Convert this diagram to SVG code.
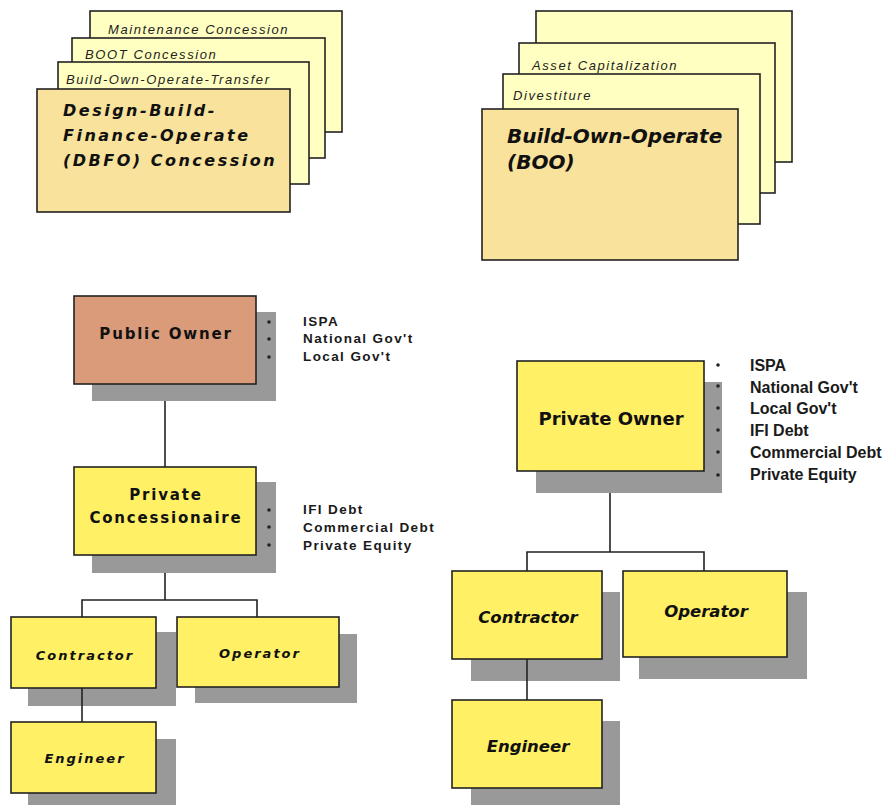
<svg xmlns="http://www.w3.org/2000/svg" width="888" height="805" viewBox="0 0 888 805">
  <style>
    .back { fill: #FFFFC1; stroke: #222; stroke-width: 1.6; }
    .front { fill: #F9E29B; stroke: #222; stroke-width: 1.6; }
    .box { fill: #FFF066; stroke: #222; stroke-width: 1.6; }
    .pub { fill: #D99B79; stroke: #222; stroke-width: 1.6; }
    .shadow { fill: #999999; }
    .conn { fill: none; stroke: #222; stroke-width: 1.6; }
    .card-lbl { font-family: "Liberation Sans", Arial, sans-serif; font-style: italic; font-size: 13px; letter-spacing: 1.6px; fill: #222; }
    .big-it { font-family: "DejaVu Sans", Verdana, sans-serif; font-weight: bold; font-style: italic; fill: #111; }
    .title { font-family: "DejaVu Sans", Verdana, sans-serif; font-weight: bold; fill: #111; text-anchor: middle; }
    .role-s { font-family: "DejaVu Sans", Verdana, sans-serif; font-weight: bold; font-style: italic; font-size: 13px; letter-spacing: 2px; fill: #111; text-anchor: middle; }
    .role-l { font-family: "DejaVu Sans", Verdana, sans-serif; font-weight: bold; font-style: italic; font-size: 16.5px; fill: #111; text-anchor: middle; }
    .src-s { font-family: "Liberation Sans", Arial, sans-serif; font-weight: bold; font-size: 13.5px; letter-spacing: 1.4px; fill: #1a1a1a; }
    .src-l { font-family: "Liberation Sans", Arial, sans-serif; font-weight: bold; font-size: 16px; fill: #1a1a1a; }
    .dot { fill: #222; }
  </style>

  <!-- Concession models: stacked cards -->
  <g id="concession-stack">
    <rect class="back" x="90" y="11" width="252" height="121"/>
    <text class="card-lbl" x="108" y="34">Maintenance Concession</text>
    <rect class="back" x="72" y="38" width="253" height="120"/>
    <text class="card-lbl" x="85" y="59">BOOT Concession</text>
    <rect class="back" x="58" y="62" width="251" height="122"/>
    <text class="card-lbl" x="66" y="84">Build-Own-Operate-Transfer</text>
    <rect class="front" x="37" y="89" width="253" height="123"/>
    <text class="big-it" font-size="16" letter-spacing="2.5" x="63" y="116">Design-Build-</text>
    <text class="big-it" font-size="16" letter-spacing="2.5" x="63" y="141">Finance-Operate</text>
    <text class="big-it" font-size="16" letter-spacing="2.5" x="63" y="166">(DBFO) Concession</text>
  </g>

  <!-- Ownership models: stacked cards -->
  <g id="ownership-stack">
    <rect class="back" x="536" y="11" width="256" height="151"/>
    <rect class="back" x="519" y="43" width="256" height="150"/>
    <text class="card-lbl" x="532" y="70">Asset Capitalization</text>
    <rect class="back" x="503" y="74" width="257" height="150"/>
    <text class="card-lbl" x="513" y="100">Divestiture</text>
    <rect class="front" x="482" y="109" width="256" height="151"/>
    <text class="big-it" font-size="20" x="507" y="143">Build-Own-Operate</text>
    <text class="big-it" font-size="20" x="507" y="169">(BOO)</text>
  </g>

  <!-- Left tree nodes -->
  <g id="public-owner">
    <rect class="shadow" x="92" y="312" width="184" height="89"/>
    <rect class="pub" x="74" y="296" width="182" height="88"/>
    <text class="title" font-size="15" letter-spacing="1.8" x="166" y="339">Public Owner</text>
  </g>
  <g id="public-owner-sources">
    <circle class="dot" cx="269" cy="322" r="1.8"/>
    <circle class="dot" cx="269" cy="339" r="1.8"/>
    <circle class="dot" cx="269" cy="357" r="1.8"/>
    <text class="src-s" x="303" y="326">ISPA</text>
    <text class="src-s" x="303" y="343">National Gov't</text>
    <text class="src-s" x="303" y="361">Local Gov't</text>
  </g>

  <g id="private-concessionaire">
    <rect class="shadow" x="92" y="482" width="184" height="91"/>
    <rect class="box" x="74" y="467" width="182" height="88"/>
    <text class="title" font-size="15" letter-spacing="1.8" x="166" y="500">Private</text>
    <text class="title" font-size="15" letter-spacing="1.8" x="166" y="523">Concessionaire</text>
  </g>
  <g id="concessionaire-sources">
    <circle class="dot" cx="269" cy="510" r="1.8"/>
    <circle class="dot" cx="269" cy="527" r="1.8"/>
    <circle class="dot" cx="269" cy="545" r="1.8"/>
    <text class="src-s" x="303" y="514">IFI Debt</text>
    <text class="src-s" x="303" y="532">Commercial Debt</text>
    <text class="src-s" x="303" y="550">Private Equity</text>
  </g>

  <g id="left-contractor">
    <rect class="shadow" x="28" y="632" width="148" height="74"/>
    <rect class="box" x="11" y="617" width="145" height="71"/>
    <text class="role-s" x="85" y="660">Contractor</text>
  </g>
  <g id="left-operator">
    <rect class="shadow" x="195" y="634" width="162" height="69"/>
    <rect class="box" x="177" y="617" width="162" height="70"/>
    <text class="role-s" x="260" y="658">Operator</text>
  </g>
  <g id="left-engineer">
    <rect class="shadow" x="28" y="739" width="148" height="70"/>
    <rect class="box" x="11" y="722" width="145" height="71"/>
    <text class="role-s" x="85" y="763">Engineer</text>
  </g>

  <!-- Right tree nodes -->
  <g id="private-owner">
    <rect class="shadow" x="536" y="382" width="186" height="111"/>
    <rect class="box" x="517" y="361" width="187" height="110"/>
    <text class="title" font-size="18" x="611" y="425">Private Owner</text>
  </g>
  <g id="private-owner-sources">
    <circle class="dot" cx="718" cy="365" r="1.8"/>
    <circle class="dot" cx="718" cy="386" r="1.8"/>
    <circle class="dot" cx="718" cy="408" r="1.8"/>
    <circle class="dot" cx="718" cy="430" r="1.8"/>
    <circle class="dot" cx="718" cy="452" r="1.8"/>
    <circle class="dot" cx="718" cy="475" r="1.8"/>
    <text class="src-l" x="750" y="371">ISPA</text>
    <text class="src-l" x="750" y="393">National Gov't</text>
    <text class="src-l" x="750" y="414">Local Gov't</text>
    <text class="src-l" x="750" y="436">IFI Debt</text>
    <text class="src-l" x="750" y="458">Commercial Debt</text>
    <text class="src-l" x="750" y="480">Private Equity</text>
  </g>

  <g id="right-contractor">
    <rect class="shadow" x="471" y="592" width="149" height="89"/>
    <rect class="box" x="452" y="571" width="150" height="88"/>
    <text class="role-l" x="528" y="623">Contractor</text>
  </g>
  <g id="right-operator">
    <rect class="shadow" x="639" y="592" width="168" height="87"/>
    <rect class="box" x="623" y="571" width="164" height="86"/>
    <text class="role-l" x="706" y="617">Operator</text>
  </g>
  <g id="right-engineer">
    <rect class="shadow" x="471" y="721" width="149" height="88"/>
    <rect class="box" x="452" y="700" width="150" height="88"/>
    <text class="role-l" x="528" y="752">Engineer</text>
  </g>

  <!-- Connectors -->
  <g id="connectors">
    <path class="conn" d="M165 401 V467"/>
    <path class="conn" d="M165 573 V600 M82 617 V600 H257 V617"/>
    <path class="conn" d="M82 688 V722"/>
    <path class="conn" d="M610 493 V552 M527 571 V552 H704 V571"/>
    <path class="conn" d="M527 659 V700"/>
  </g>
</svg>
